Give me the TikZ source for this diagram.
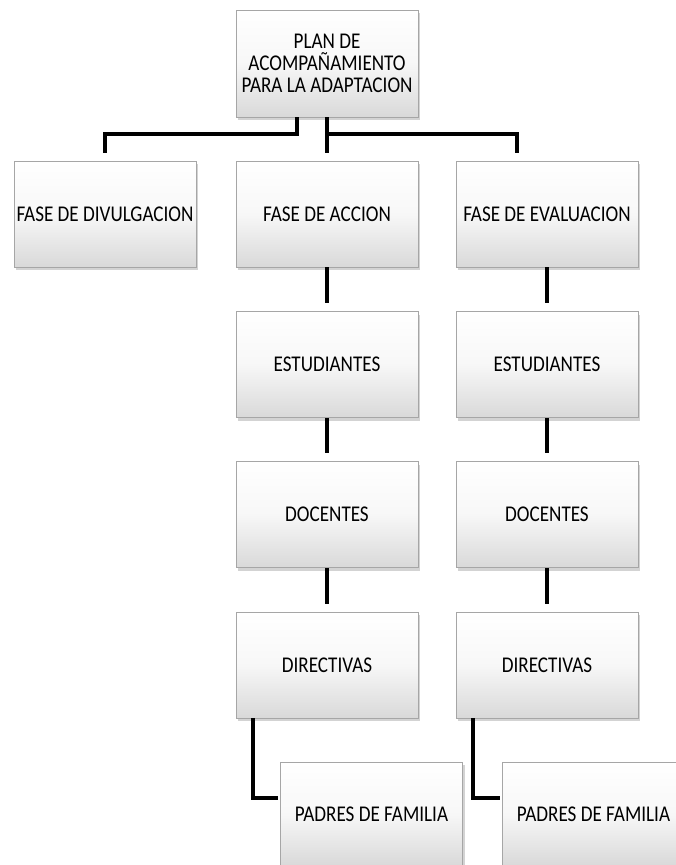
\documentclass[tikz,border=0pt]{standalone}
\usepackage{fontspec}
\setmainfont{Carlito}
\newfontfamily\boxfont[FakeStretch=0.85]{Carlito}
\usetikzlibrary{shadows}
\begin{document}
\begin{tikzpicture}
        [x=1pt,y=-1pt,
        box/.style={rectangle, draw=gray!70, line width=0.8pt,
            top color=white, bottom color=gray!30, middle color=gray!6,
            minimum width=182pt, minimum height=106pt, inner sep=0pt,
            drop shadow={shadow xshift=2pt, shadow yshift=-3pt, opacity=0.35},
            font=\boxfont\fontsize{22.5}{22}\selectfont, align=center},
        conn/.style={line width=4pt, black}]
        \useasboundingbox (0,0) rectangle (675,865);
        \node[box,minimum height=107pt] (plan) at (327,63.5) {PLAN DE\\ACOMPAÑAMIENTO\\PARA LA ADAPTACION};
        \node[box] (div) at (105,214) {FASE DE DIVULGACION};
        \node[box] (acc) at (327,214) {FASE DE ACCION};
        \node[box] (eva) at (547,214) {FASE DE EVALUACION};
        \node[box] (estA) at (327,364.5) {ESTUDIANTES};
        \node[box] (estE) at (547,364.5) {ESTUDIANTES};
        \node[box] (docA) at (327,514.5) {DOCENTES};
        \node[box] (docE) at (547,514.5) {DOCENTES};
        \node[box] (dirA) at (327,665) {DIRECTIVAS};
        \node[box] (dirE) at (547,665) {DIRECTIVAS};
        \node[box,minimum height=104pt] (padA) at (371.5,814) {PADRES DE FAMILIA};
        \node[box,minimum height=104pt] (padE) at (593.5,814) {PADRES DE FAMILIA};
        % ramas del plan
        \draw[conn] ([xshift=-30pt]plan.south) -- ++(0,17) -| ([yshift=8pt]div.north);
        \draw[conn] (plan.south) -- ([yshift=8pt]acc.north);
        \draw[conn] ([yshift=-17pt]plan.south) -| ([xshift=-30pt,yshift=8pt]eva.north);
        % fase de accion
        \draw[conn] (acc.south) -- ([yshift=8pt]estA.north);
        \draw[conn] (estA.south) -- ([yshift=8pt]docA.north);
        \draw[conn] (docA.south) -- ([yshift=8pt]dirA.north);
        \draw[conn] ([xshift=-74pt]dirA.south) |- ([xshift=-2pt,yshift=16pt]padA.west);
        % fase de evaluacion
        \draw[conn] (eva.south) -- ([yshift=8pt]estE.north);
        \draw[conn] (estE.south) -- ([yshift=8pt]docE.north);
        \draw[conn] (docE.south) -- ([yshift=8pt]dirE.north);
        \draw[conn] ([xshift=-74pt]dirE.south) |- ([xshift=-2pt,yshift=16pt]padE.west);
\end{tikzpicture}
\end{document}
